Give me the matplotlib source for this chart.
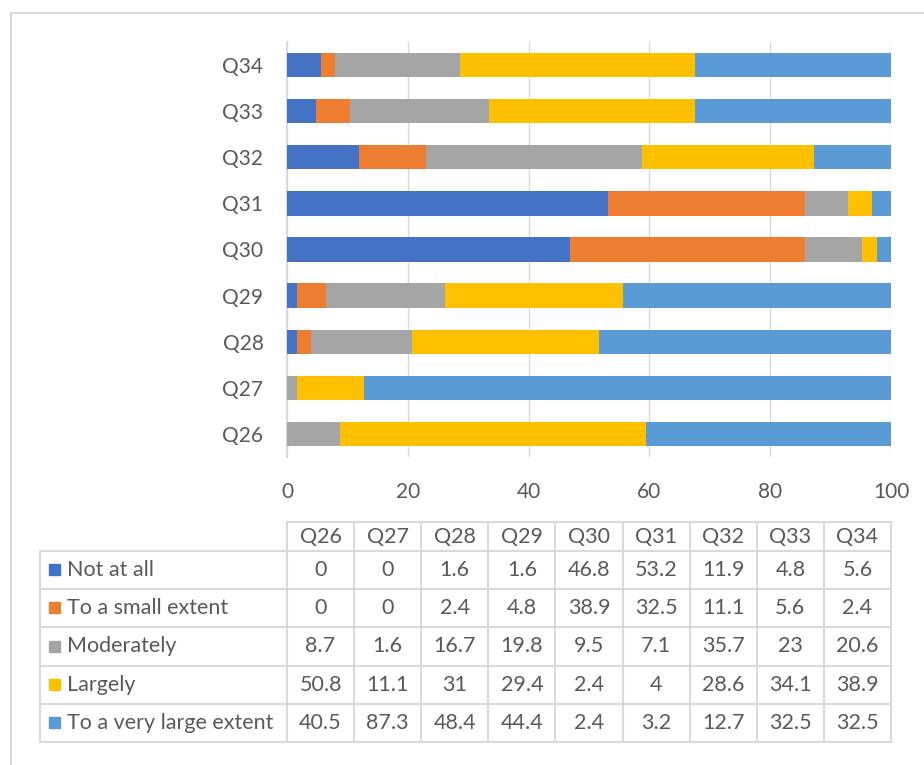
import numpy as np
import matplotlib.pyplot as plt

questions = ["Q26", "Q27", "Q28", "Q29", "Q30", "Q31", "Q32", "Q33", "Q34"]
categories = ["Not at all", "To a small extent", "Moderately", "Largely",
              "To a very large extent"]
not_at_all = [0, 0, 1.6, 1.6, 46.8, 53.2, 11.9, 4.8, 5.6]
small_extent = [0, 0, 2.4, 4.8, 38.9, 32.5, 11.1, 5.6, 2.4]
moderately = [8.7, 1.6, 16.7, 19.8, 9.5, 7.1, 35.7, 23, 20.6]
largely = [50.8, 11.1, 31, 29.4, 2.4, 4, 28.6, 34.1, 38.9]
very_large = [40.5, 87.3, 48.4, 44.4, 2.4, 3.2, 12.7, 32.5, 32.5]
series = [not_at_all, small_extent, moderately, largely, very_large]
colors = ["#4472C4", "#ED7D31", "#A5A5A5", "#FFC000", "#5B9BD5"]

plt.rcParams["font.family"] = ["Lato", "DejaVu Sans"]
text_color = "#595959"
grid_color = "#D9D9D9"

W, H = 924, 765
fig = plt.figure(figsize=(W / 100, H / 100), dpi=100)

# overlay axes in pixel units for frame and table
ov = fig.add_axes([0, 0, 1, 1])
ov.set_xlim(0, W)
ov.set_ylim(H, 0)
ov.axis("off")
ov.plot([11, 11, W], [H, 13, 13], color="#D9D9D9", lw=1.5)

# bar chart
x0, x1 = 287, 891
y_top, y_bot = 42, 457
ax = fig.add_axes([x0 / W, 1 - y_bot / H, (x1 - x0) / W, (y_bot - y_top) / H])
ypos = np.arange(len(questions))
left = np.zeros(len(questions))
for vals, c in zip(series, colors):
    ax.barh(ypos, vals, left=left, height=0.53, color=c, zorder=3)
    left += np.array(vals)
ax.set_xlim(0, 100)
ax.set_ylim(-0.5, len(questions) - 0.5)
ax.set_xticks(np.arange(0, 101, 20))
ax.set_yticks(ypos)
ax.set_yticklabels(questions)
ax.grid(axis="x", color=grid_color, lw=1, zorder=0)
for s in ["top", "right", "bottom"]:
    ax.spines[s].set_visible(False)
ax.spines["left"].set_color(grid_color)
ax.spines["left"].set_linewidth(1.5)
ax.tick_params(length=0, labelsize=15, colors=text_color)
ax.tick_params(axis="x", pad=18)
ax.tick_params(axis="y", pad=17)

# data table
col_w = (x1 - x0) / len(questions)
hdr_top, hdr_bot = 522, 551
row_h = (742 - hdr_bot) / len(categories)
lab_left = 40
lc = "#D9D9D9"
fs = 15.5
# vertical lines for question columns
for i in range(len(questions) + 1):
    xx = x0 + i * col_w
    ov.plot([xx, xx], [hdr_top, 742], color=lc, lw=1.5)
ov.plot([x0, x1], [hdr_top, hdr_top], color=lc, lw=1.5)
ov.plot([lab_left, lab_left], [hdr_bot, 742], color=lc, lw=1.5)
for j in range(len(categories) + 1):
    yy = hdr_bot + j * row_h
    ov.plot([lab_left, x1], [yy, yy], color=lc, lw=1.5)
for i, q in enumerate(questions):
    ov.text(x0 + (i + 0.5) * col_w, (hdr_top + hdr_bot) / 2 + 1, q,
            ha="center", va="center", fontsize=fs, color=text_color)
for j, (cat, vals, c) in enumerate(zip(categories, series, colors)):
    yc = hdr_bot + (j + 0.5) * row_h
    ov.add_patch(plt.Rectangle((49, yc - 6), 11, 11, color=c))
    ov.text(67, yc, cat, ha="left", va="center", fontsize=fs, color=text_color)
    for i, v in enumerate(vals):
        ov.text(x0 + (i + 0.5) * col_w, yc, f"{v:g}", ha="center",
                va="center", fontsize=fs, color=text_color)

fig.savefig("out.png", dpi=100)
